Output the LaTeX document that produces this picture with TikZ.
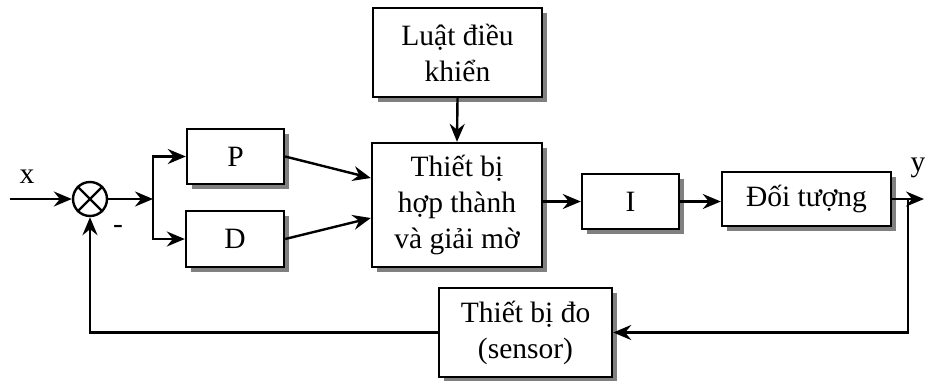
\documentclass[tikz,border=0pt]{standalone}
\usepackage{fontspec}
\setmainfont{Liberation Serif}
\usetikzlibrary{arrows.meta,shadows}

\begin{document}
\begin{tikzpicture}[x=1pt,y=1pt,font=\fontsize{29.5}{36}\selectfont,
    khoi/.style={draw,line width=2.4pt,fill=white,align=center,inner sep=0pt,
      drop shadow={shadow xshift=5pt,shadow yshift=-5pt,fill=black!50,opacity=1}},
    mui/.style={line width=2.4pt,-{Stealth[length=18pt,width=15pt,inset=6pt]}},
    day/.style={line width=2.4pt}]
          \useasboundingbox (0,0) rectangle (925,-380);

          \node[khoi,minimum width=169pt,minimum height=89pt] (luat) at (457.5,-52.5) {Luật điều\\khiển};
          \node[khoi,minimum width=97pt,minimum height=55pt] (p) at (235.5,-156.5) {P};
          \node[khoi,minimum width=98pt,minimum height=56pt] (d) at (235,-239) {D};
          \node[khoi,minimum width=170pt,minimum height=124pt] (hop) at (457,-205) {Thiết bị\\hợp thành\\và giải mờ};
          \node[khoi,minimum width=97pt,minimum height=55pt] (i) at (630.5,-201.5) {I};
          \node[khoi,minimum width=169pt,minimum height=54pt] (doi) at (806.5,-199) {Đối tượng};
          \node[khoi,minimum width=173pt,minimum height=89pt] (cb) at (525.5,-332.5) {Thiết bị đo\\(sensor)};

          \node[draw,circle,line width=2.4pt,minimum size=34pt,inner sep=0pt] (tong) at (90,-199) {};
          \draw[day] (tong.north west) -- (tong.south east);
          \draw[day] (tong.north east) -- (tong.south west);

          \node (nx) at (27,-177) {x};
          \node (ny) at (918,-168) {y};
          \node (tru) at (118,-229) {-};

          \coordinate (vao) at (10,-199);
          \coordinate (re) at (153,-199);
          \coordinate (ra) at (924,-199);
          \coordinate (nhanh) at (908,-199);

          \draw[mui] (vao) -- (tong.west);
          \draw[mui] (tong.east) -- (re);
          \draw[mui] (re) |- (p.west);
          \draw[mui] (re) |- (d.west);
          \draw[mui] (p.east) -- ([yshift=27pt]hop.west);
          \draw[mui] (d.east) -- ([yshift=-13pt]hop.west);
          \draw[mui] (luat.south) -- (hop.north);
          \draw[mui] (hop.east |- i.west) -- (i.west);
          \draw[mui] (i.east) -- (i.east -| doi.west);
          \draw[mui] (doi.east) -- (ra);
          \draw[mui] (nhanh) |- (cb.east);
          \draw[mui] (cb.west) -| (tong.south);
        \end{tikzpicture}
\end{document}
